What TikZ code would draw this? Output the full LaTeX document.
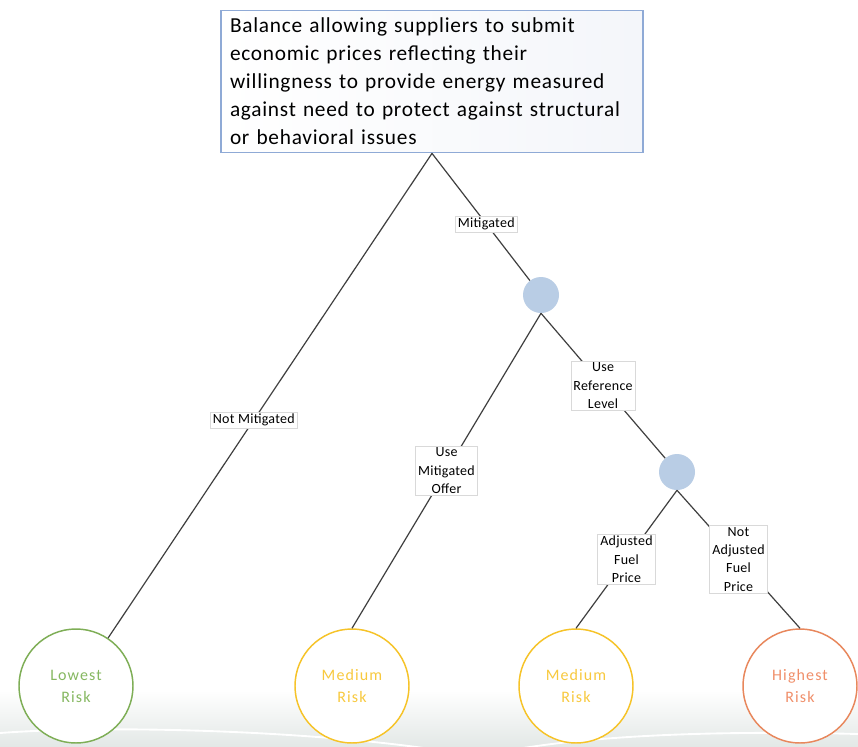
\documentclass[tikz,border=0pt]{standalone}
\usepackage{fontspec}
\setmainfont{Carlito}
\definecolor{choice}{HTML}{B9CDE5}
\definecolor{boxline}{HTML}{8FAAD6}
\definecolor{boxtint}{HTML}{F4F6FA}
\definecolor{linkgray}{HTML}{3F3F3F}
\definecolor{tagline}{HTML}{D9D9D9}
\definecolor{lowgreen}{HTML}{7EAE56}
\definecolor{lowtext}{HTML}{86B861}
\definecolor{medgold}{HTML}{F6C328}
\definecolor{medtext}{HTML}{F8C93E}
\definecolor{highorange}{HTML}{E8875C}
\definecolor{hightext}{HTML}{F08F6A}
\definecolor{bgfoot}{HTML}{E3E8E6}
\begin{document}
\begin{tikzpicture}[x=0.75pt,y=-0.75pt,
  link/.style={draw=linkgray, line width=0.9pt},
  choicept/.style={circle, fill=choice, draw=none, minimum size=27pt, inner sep=0pt},
  outcome/.style={circle, draw=#1, line width=1.1pt, fill=white, minimum size=85.5pt,
    inner sep=0pt, align=center,
    font=\fontsize{12}{16.5}\selectfont\addfontfeatures{LetterSpace=7}},
  tag/.style={fill=white, draw=tagline, line width=0.4pt, align=center,
    inner xsep=2pt, inner ysep=1.5pt,
    font=\fontsize{10.5}{13.75}\selectfont\addfontfeatures{LetterSpace=2}}]
  % canvas and soft floor
  \useasboundingbox (0,0) rectangle (858,747);
  \fill[white] (0,0) rectangle (858,747);
  \shade[top color=white, bottom color=bgfoot] (0,690) rectangle (858,747);
  \draw[white, line width=1.4pt] (0,733) .. controls (120,724) and (330,732) .. (450,752);
  \draw[white, line width=1.4pt] (500,752) .. controls (600,733) and (740,731) .. (858,734);

  % question box
  \node[draw=boxline, line width=0.8pt, left color=white, right color=boxtint,
        minimum width=316.5pt, minimum height=107pt, text width=303pt,
        inner xsep=6.75pt, inner ysep=0pt, align=left,
        font=\fontsize{16}{21}\selectfont\addfontfeatures{LetterSpace=3.5}] (top) at (432,81.5)
    {Balance allowing suppliers to submit\\
     economic prices reflecting their\\
     willingness to provide energy measured\\
     against need to protect against structural\\
     or behavioral issues};

  % decision points
  \node[choicept] (c1) at (541,295) {};
  \node[choicept] (c2) at (677,472) {};

  % outcomes
  \node[outcome=lowgreen, text=lowtext] (low) at (76,686) {Lowest\\Risk};
  \node[outcome=medgold, text=medtext] (med1) at (352,686) {Medium\\Risk};
  \node[outcome=medgold, text=medtext] (med2) at (576,686) {Medium\\Risk};
  \node[outcome=highorange, text=hightext] (high) at (800,686) {Highest\\Risk};

  % branches
  \draw[link] (top.south) -- node[tag, pos=0.55] {Not Mitigated} (low);
  \draw[link] (top.south) -- node[tag, pos=0.555] {Mitigated} (c1);
  \draw[link] (c1.south) -- node[tag, pos=0.5] {Use\\Mitigated\\Offer} (med1.north);
  \draw[link] (c1.south) -- node[tag, pos=0.5] {Use\\Reference\\Level} (c2);
  \draw[link] (c2.south) -- node[tag, pos=0.5] {Adjusted\\Fuel\\Price} (med2.north);
  \draw[link] (c2.south) -- node[tag, pos=0.5] {Not\\Adjusted\\Fuel\\Price} (high.north);
\end{tikzpicture}
\end{document}
